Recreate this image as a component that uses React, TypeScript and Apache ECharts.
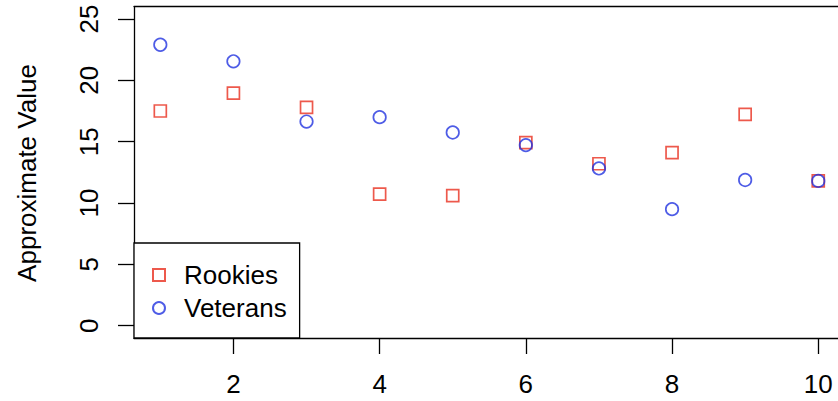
import React, { useEffect, useRef } from "react";
import * as echarts from "echarts";

const xValues = [1, 2, 3, 4, 5, 6, 7, 8, 9, 10];
const rookies = [17.5, 18.95, 17.8, 10.72, 10.6, 14.92, 13.2, 14.1, 17.22, 11.8];
const veterans = [22.9, 21.55, 16.64, 17.0, 15.75, 14.72, 12.82, 9.5, 11.88, 11.8];
const xTicks = [2, 4, 6, 8, 10];
const yTicks = [0, 5, 10, 15, 20, 25];
const yTitle = "Approximate Value";
const seriesNames = ["Rookies", "Veterans"];

const FONT = "Liberation Sans, Arial, Helvetica, sans-serif";
const RED = "#e8301f";
const BLUE = "#2233e0";

export default function App() {
  const ref = useRef<HTMLDivElement>(null);
  useEffect(() => {
    if (!ref.current) return;
    const chart = echarts.init(ref.current, undefined, { renderer: "svg" });
    const toPairs = (ys: number[]) => xValues.map((x, i) => [x, ys[i]]);
    const line = { show: true, lineStyle: { color: "#000", width: 1.3 } };
    chart.setOption({
      animation: false,
      backgroundColor: "#ffffff",
      grid: {
        left: 134,
        top: 6.7,
        bottom: 63,
        right: 0,
        show: false,
      },
      xAxis: [
        {
          type: "value",
          position: "bottom",
          min: 0.64,
          max: 10.27,
          axisLine: { ...line, onZero: false },
          splitLine: { show: false },
          axisTick: {
            show: true,
            length: 16,
            customValues: xTicks,
            lineStyle: { color: "#000", width: 1.3 },
          },
          axisLabel: {
            customValues: xTicks,
            margin: 33,
            fontSize: 26,
            fontFamily: FONT,
            color: "#000",
          },
        },
        {
          type: "value",
          position: "top",
          min: 0.64,
          max: 10.27,
          axisLine: { ...line, onZero: false },
          splitLine: { show: false },
          axisTick: { show: false },
          axisLabel: { show: false },
        },
      ],
      yAxis: {
        type: "value",
        min: -1,
        max: 26,
        axisLine: { ...line, onZero: false },
        splitLine: { show: false },
        axisTick: {
          show: true,
          length: 16,
          customValues: yTicks,
          lineStyle: { color: "#000", width: 1.3 },
        },
        axisLabel: {
          customValues: yTicks,
          rotate: 90,
          margin: 32,
          fontSize: 26,
          fontFamily: FONT,
          color: "#000",
        },
      },
      legend: {
        orient: "vertical",
        left: 134,
        top: 243,
        padding: [19, 13, 17, 18],
        itemGap: 7,
        itemWidth: 12,
        itemHeight: 12,
        backgroundColor: "#fff",
        borderColor: "#000",
        borderWidth: 1.3,
        borderRadius: 0,
        data: seriesNames,
        textStyle: {
          fontSize: 26,
          lineHeight: 26,
          fontFamily: FONT,
          color: "#000",
          padding: [0, 0, 0, 14],
        },
      },
      graphic: [
        {
          type: "text",
          x: 27,
          y: 173,
          rotation: Math.PI / 2,
          style: {
            text: yTitle,
            font: `26px ${FONT}`,
            fill: "#000",
            textAlign: "center",
            textVerticalAlign: "middle",
          },
        },
      ],
      series: [
        {
          name: seriesNames[0],
          type: "scatter",
          symbol: "rect",
          symbolSize: 12,
          data: toPairs(rookies),
          itemStyle: { color: "transparent", borderColor: RED, borderWidth: 1.7 },
        },
        {
          name: seriesNames[1],
          type: "scatter",
          symbol: "circle",
          symbolSize: 12.5,
          data: toPairs(veterans),
          itemStyle: { color: "transparent", borderColor: BLUE, borderWidth: 1.7 },
        },
      ],
    });
    return () => chart.dispose();
  }, []);
  return (
    <div
      ref={ref}
      style={{ position: "absolute", left: 0, top: 0, width: 838, height: 401 }}
    />
  );
}
